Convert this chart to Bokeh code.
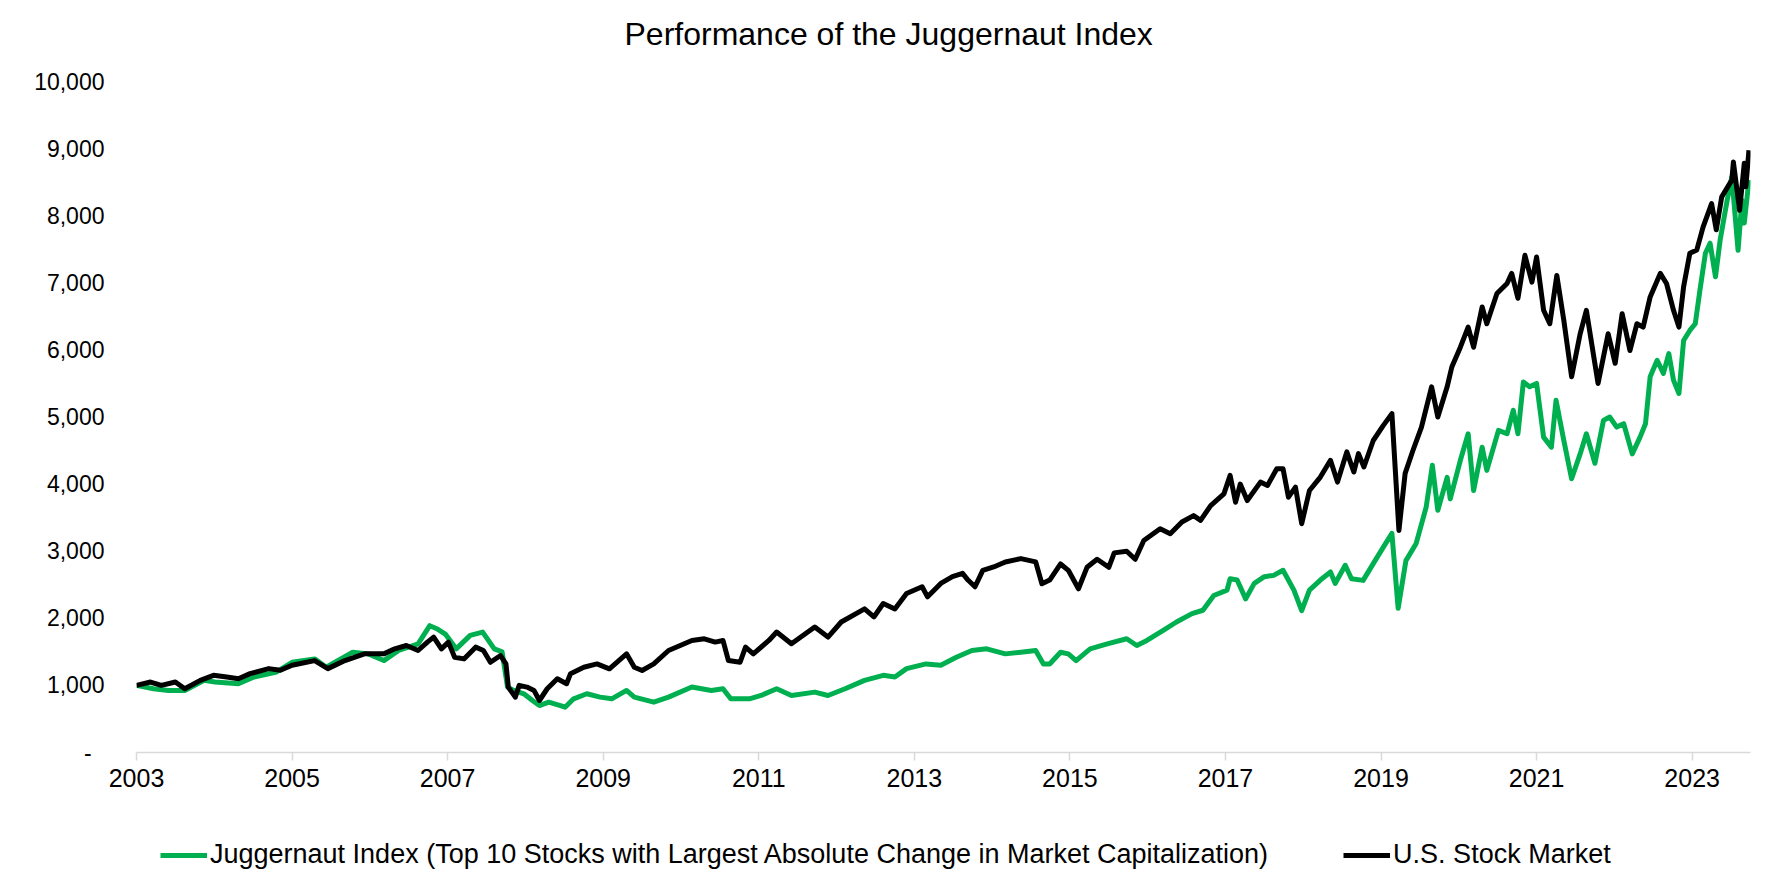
from bokeh.plotting import figure
from bokeh.layouts import column
from bokeh.models import FixedTicker, Legend, LegendItem, Range1d, ColumnDataSource, Title
from bokeh.embed import file_html
from bokeh.resources import INLINE

title_text = "Performance of the Juggernaut Index"
juggernaut_label = "Juggernaut Index (Top 10 Stocks with Largest Absolute Change in Market Capitalization)"
market_label = "U.S. Stock Market"

year_ticks = [2003, 2005, 2007, 2009, 2011, 2013, 2015, 2017, 2019, 2021, 2023]
year_labels = ["2003", "2005", "2007", "2009", "2011", "2013", "2015", "2017", "2019", "2021", "2023"]
value_ticks = [0, 1000, 2000, 3000, 4000, 5000, 6000, 7000, 8000, 9000, 10000]
value_labels = ["-\u2007", "1,000", "2,000", "3,000", "4,000", "5,000", "6,000", "7,000", "8,000", "9,000", "10,000"]

market_dates = [
    2003.00, 2003.18, 2003.32, 2003.50, 2003.62, 2003.82, 2003.99, 2004.16, 2004.31, 2004.46,
    2004.70, 2004.85, 2005.00, 2005.29, 2005.46, 2005.68, 2005.93, 2006.18, 2006.32, 2006.47,
    2006.62, 2006.74, 2006.82, 2006.92, 2007.01, 2007.09, 2007.21, 2007.36, 2007.46, 2007.55,
    2007.68, 2007.75, 2007.78, 2007.87, 2007.92, 2008.02, 2008.11, 2008.18, 2008.28, 2008.41,
    2008.53, 2008.58, 2008.75, 2008.92, 2009.08, 2009.30, 2009.40, 2009.50, 2009.65, 2009.84,
    2010.14, 2010.30, 2010.44, 2010.54, 2010.61, 2010.76, 2010.83, 2010.93, 2011.13, 2011.23,
    2011.42, 2011.72, 2011.89, 2012.06, 2012.36, 2012.48, 2012.60, 2012.75, 2012.90, 2013.10,
    2013.17, 2013.34, 2013.49, 2013.62, 2013.69, 2013.78, 2013.88, 2014.02, 2014.17, 2014.37,
    2014.56, 2014.64, 2014.74, 2014.88, 2014.98, 2015.11, 2015.22, 2015.35, 2015.50, 2015.57,
    2015.73, 2015.84, 2015.95, 2016.16, 2016.29, 2016.44, 2016.59, 2016.68, 2016.81, 2016.98,
    2017.06, 2017.13, 2017.19, 2017.28, 2017.45, 2017.54, 2017.66, 2017.74, 2017.81, 2017.90,
    2017.98, 2018.08, 2018.22, 2018.35, 2018.44, 2018.56, 2018.65, 2018.71, 2018.78, 2018.90,
    2019.03, 2019.14, 2019.23, 2019.31, 2019.41, 2019.52, 2019.65, 2019.73, 2019.85, 2019.91,
    2020.02, 2020.12, 2020.19, 2020.30, 2020.36, 2020.49, 2020.62, 2020.68, 2020.76, 2020.85,
    2020.94, 2021.00, 2021.09, 2021.17, 2021.26, 2021.35, 2021.45, 2021.56, 2021.64, 2021.79,
    2021.92, 2022.01, 2022.10, 2022.20, 2022.29, 2022.37, 2022.46, 2022.59, 2022.67, 2022.76,
    2022.83, 2022.89, 2022.97, 2023.06, 2023.14, 2023.25, 2023.31, 2023.38, 2023.51, 2023.53,
    2023.61, 2023.67, 2023.69, 2023.73,
]
market_values = [
    1000, 1050, 1000, 1050, 950, 1075, 1150, 1125, 1100, 1175,
    1250, 1225, 1300, 1370, 1250, 1370, 1470, 1470, 1545, 1595,
    1520, 1645, 1720, 1545, 1645, 1420, 1395, 1570, 1520, 1345,
    1445, 1320, 975, 825, 1000, 975, 925, 775, 950, 1100,
    1025, 1175, 1270, 1320, 1247, 1470, 1270, 1222, 1320, 1520,
    1670, 1695, 1645, 1670, 1370, 1345, 1570, 1470, 1670, 1795,
    1620, 1870, 1720, 1945, 2140, 2020, 2220, 2140, 2370, 2470,
    2320, 2520, 2620, 2670, 2570, 2470, 2715, 2765, 2840, 2890,
    2840, 2515, 2570, 2810, 2715, 2440, 2760, 2880, 2760, 2975,
    3000, 2880, 3160, 3335, 3260, 3435, 3530, 3460, 3680, 3855,
    4130, 3730, 4000, 3755, 4030, 3980, 4230, 4230, 3805, 3955,
    3410, 3905, 4105, 4355, 4030, 4480, 4180, 4455, 4255, 4650,
    4875, 5050, 3310, 4160, 4500, 4850, 5450, 5000, 5450, 5745,
    6040, 6340, 6040, 6640, 6390, 6840, 6990, 7140, 6770, 7410,
    7010, 7385, 6590, 6390, 7110, 6440, 5600, 6240, 6590, 5500,
    6240, 5800, 6540, 5990, 6390, 6340, 6790, 7140, 6990, 6590,
    6340, 6940, 7440, 7490, 7830, 8180, 7790, 8280, 8530, 8800,
    8080, 8780, 8430, 8975,
]

juggernaut_dates = [
    2003.00, 2003.22, 2003.41, 2003.62, 2003.87, 2004.01, 2004.31, 2004.51, 2004.80, 2005.00,
    2005.29, 2005.44, 2005.78, 2005.98, 2006.18, 2006.37, 2006.62, 2006.77, 2006.87, 2006.97,
    2007.11, 2007.29, 2007.45, 2007.60, 2007.70, 2007.77, 2007.85, 2007.98, 2008.09, 2008.18,
    2008.30, 2008.45, 2008.51, 2008.62, 2008.79, 2008.96, 2009.11, 2009.30, 2009.40, 2009.65,
    2009.84, 2010.14, 2010.39, 2010.54, 2010.64, 2010.88, 2011.03, 2011.23, 2011.42, 2011.72,
    2011.89, 2012.11, 2012.36, 2012.60, 2012.75, 2012.90, 2013.15, 2013.34, 2013.54, 2013.74,
    2013.93, 2014.17, 2014.37, 2014.56, 2014.66, 2014.74, 2014.88, 2014.98, 2015.08, 2015.26,
    2015.48, 2015.73, 2015.86, 2015.99, 2016.20, 2016.37, 2016.57, 2016.71, 2016.85, 2017.02,
    2017.06, 2017.15, 2017.26, 2017.37, 2017.50, 2017.62, 2017.74, 2017.88, 2017.98, 2018.08,
    2018.22, 2018.35, 2018.41, 2018.54, 2018.62, 2018.77, 2018.90, 2019.03, 2019.14, 2019.22,
    2019.32, 2019.45, 2019.58, 2019.66, 2019.73, 2019.85, 2019.89, 2020.02, 2020.12, 2020.19,
    2020.30, 2020.36, 2020.51, 2020.62, 2020.70, 2020.76, 2020.83, 2020.91, 2021.00, 2021.09,
    2021.19, 2021.25, 2021.35, 2021.45, 2021.56, 2021.64, 2021.75, 2021.86, 2021.94, 2022.03,
    2022.12, 2022.23, 2022.33, 2022.40, 2022.46, 2022.55, 2022.63, 2022.70, 2022.76, 2022.83,
    2022.89, 2022.97, 2023.04, 2023.10, 2023.17, 2023.23, 2023.30, 2023.36, 2023.45, 2023.51,
    2023.59, 2023.64, 2023.67, 2023.73,
]
juggernaut_values = [
    1000, 950, 925, 925, 1075, 1050, 1025, 1125, 1200, 1345,
    1395, 1270, 1495, 1470, 1370, 1520, 1620, 1890, 1840, 1765,
    1545, 1745, 1795, 1545, 1500, 975, 925, 875, 775, 700,
    750, 700, 675, 800, 875, 825, 800, 925, 825, 750,
    825, 975, 925, 950, 800, 800, 850, 950, 850, 900,
    850, 950, 1075, 1150, 1125, 1250, 1320, 1300, 1420, 1520,
    1545, 1470, 1495, 1520, 1320, 1320, 1495, 1470, 1370, 1545,
    1620, 1695, 1595, 1670, 1820, 1945, 2070, 2120, 2340, 2420,
    2590, 2570, 2290, 2520, 2620, 2640, 2715, 2420, 2115, 2420,
    2570, 2690, 2520, 2790, 2590, 2565, 2815, 3060, 3265, 2150,
    2860, 3110, 3655, 4280, 3610, 4100, 3780, 4355, 4750, 3905,
    4550, 4205, 4800, 4750, 5100, 4750, 5520, 5450, 5500, 4700,
    4550, 5250, 4650, 4080, 4450, 4750, 4310, 4950, 5000, 4850,
    4900, 4450, 4700, 4900, 5600, 5845, 5650, 5945, 5550, 5350,
    6140, 6290, 6390, 6890, 7440, 7590, 7090, 7640, 8230, 8580,
    7485, 8230, 7890, 8530,
]

FONT = "Liberation Sans"
GREEN = "#00B050"
BLACK = "#000000"
W = 1757

# ---- title strip ----
tfig = figure(
    width=W, height=60,
    output_backend="svg", toolbar_location=None,
    x_range=Range1d(0, 1), y_range=Range1d(0, 1),
    x_axis_type=None, y_axis_type=None,
    min_border_left=136, min_border_right=7, min_border_top=0, min_border_bottom=0,
)
tfig.outline_line_color = None
tfig.grid.visible = False
tfig.add_layout(Title(
    text=title_text, align="left", offset=488, standoff=18,
    text_font=FONT, text_font_size="32px", text_font_style="normal", text_color="#000000",
), "below")

# ---- main chart ----
p = figure(
    width=W, height=740,
    output_backend="svg", toolbar_location=None,
    x_range=Range1d(2003.0, 2023.75), y_range=Range1d(0, 10000),
    min_border_left=136, min_border_right=7, min_border_top=21, min_border_bottom=48,
)
p.outline_line_color = None
p.grid.visible = False
p.background_fill_color = "white"
p.border_fill_color = "white"

xa = p.xaxis[0]
xa.ticker = FixedTicker(ticks=year_ticks)
xa.major_label_overrides = {t: l for t, l in zip(year_ticks, year_labels)}
xa.axis_line_color = "#D9D9D9"
xa.axis_line_width = 1.5
xa.major_tick_line_color = "#D9D9D9"
xa.major_tick_line_width = 1.5
xa.major_tick_out = 8
xa.major_tick_in = 0
xa.minor_tick_line_color = None
xa.major_label_text_font = FONT
xa.major_label_text_font_size = "25px"
xa.major_label_text_color = "#000000"
xa.major_label_standoff = 8

ya = p.yaxis[0]
ya.ticker = FixedTicker(ticks=value_ticks)
ya.major_label_overrides = {t: l for t, l in zip(value_ticks, value_labels)}
ya.axis_line_color = None
ya.major_tick_line_color = None
ya.minor_tick_line_color = None
ya.major_tick_out = 0
ya.major_tick_in = 0
ya.major_label_text_font = FONT
ya.major_label_text_font_size = "23px"
ya.major_label_text_color = "#000000"
ya.major_label_standoff = 32

src_j = ColumnDataSource(dict(x=juggernaut_dates, y=juggernaut_values))
src_m = ColumnDataSource(dict(x=market_dates, y=market_values))
p.line("x", "y", source=src_j, line_color=GREEN, line_width=5, line_join="round")
p.line("x", "y", source=src_m, line_color=BLACK, line_width=5, line_join="round")

# ---- legend strip (legend keys only; the key renderers hold no visible data) ----
nan = float("nan")
leg = figure(
    width=W, height=70,
    output_backend="svg", toolbar_location=None,
    x_range=Range1d(0, 1), y_range=Range1d(0, 1),
    x_axis_type=None, y_axis_type=None,
    min_border_left=136, min_border_right=7, min_border_top=0, min_border_bottom=0,
)
leg.outline_line_color = None
leg.grid.visible = False
k_j = leg.line(x=[nan], y=[nan], line_color=GREEN, line_width=5)
k_m = leg.line(x=[nan], y=[nan], line_color=BLACK, line_width=5)

legend = Legend(
    items=[LegendItem(label=juggernaut_label, renderers=[k_j]),
           LegendItem(label=market_label, renderers=[k_m])],
    orientation="horizontal",
    location=(24, 0),
    spacing=75,
    glyph_width=47,
    glyph_height=30,
    label_height=30,
    label_standoff=3,
    padding=0,
    margin=0,
    border_line_color=None,
    background_fill_alpha=0,
    label_text_font=FONT,
    label_text_font_size="27px",
    label_text_color="#000000",
)
leg.add_layout(legend)

layout = column(tfig, p, leg, spacing=0)

html = file_html(layout, INLINE, title_text)
with open("out.html", "w") as f:
    f.write(html)
